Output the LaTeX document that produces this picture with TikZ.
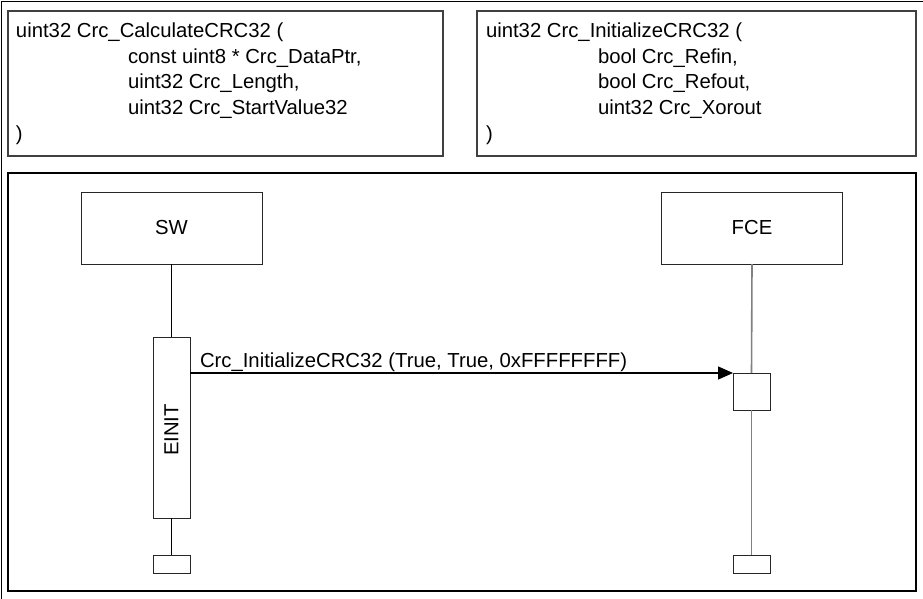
\documentclass[tikz,border=0pt]{standalone}
\usepackage{fontspec}
\setmainfont{Liberation Sans}
\usetikzlibrary{arrows.meta}
\begin{document}
\begin{tikzpicture}[x=1pt,y=-1pt,
  every node/.style={font=\fontsize{20.3}{24}\selectfont, inner sep=0pt, outer sep=0pt},
  codebox/.style={draw=black!75, line width=1.2pt, rectangle},
  framebox/.style={draw=black, line width=1.8pt, rectangle},
  objbox/.style={draw=black!85, line width=1pt, rectangle, minimum width=181pt, minimum height=72pt},
  actbox/.style={draw=black!85, line width=1pt, rectangle, fill=white, minimum width=37pt},
  line/.style={anchor=base west},
  swlife/.style={draw=black, line width=1pt},
  fcelife/.style={draw=black!50, line width=1.6pt},
  msg/.style={draw=black, line width=1.4pt, -{Triangle[length=15pt,width=13pt]}}
]
\useasboundingbox (0,0) rectangle (923,599);
% outer frame edges
\coordinate (otl) at (1.5,1.5);
\coordinate (otr) at (923,1.5);
\coordinate (obl) at (1.5,599);
\draw[line width=1pt] (otr) -- (otl) -- (obl);

% code boxes
\node[codebox, minimum width=435pt, minimum height=145pt] (b1) at (225.5,83.5) {};
\node[codebox, minimum width=439pt, minimum height=145pt] (b2) at (696.5,83.5) {};

\node[line] (b1l1) at (16,38) {uint32 Crc\_CalculateCRC32 (};
\node[line] (b1l2) at (128,63.5) {const uint8 * Crc\_DataPtr,};
\node[line] (b1l3) at (128,89) {uint32 Crc\_Length,};
\node[line] (b1l4) at (128,114.5) {uint32 Crc\_StartValue32};
\node[line] (b1l5) at (16,140) {)};

\node[line] (b2l1) at (486,38) {uint32 Crc\_InitializeCRC32 (};
\node[line] (b2l2) at (598,63.5) {bool Crc\_Refin,};
\node[line] (b2l3) at (598,89) {bool Crc\_Refout,};
\node[line] (b2l4) at (598,114.5) {uint32 Crc\_Xorout};
\node[line] (b2l5) at (486,140) {)};

% big frame
\node[framebox, minimum width=908pt, minimum height=418pt] (frame) at (462,382) {};

% objects
\node[objbox] (sw) at (171.5,228) {SW};
\node[objbox] (fce) at (752,228) {FCE};

% activations
\node[actbox, minimum height=181pt] (actsw) at (171.5,427.5) {};
\node[rotate=90] (einit) at (171.5,430) {EINIT};
\node[actbox, minimum height=18pt] (endsw) at (171.5,564) {};

\node[actbox, minimum height=37pt] (actf) at (751.5,391.5) {};
\node[actbox, minimum height=18pt] (endf) at (751.5,564) {};

% lifelines
\draw[swlife] (sw.south) -- (actsw.north);
\draw[swlife] (actsw.south) -- (endsw.north);
\draw[fcelife] (fce.south) -- (actf.north);
\draw[fcelife] (actf.south) -- (endf.north);

% message
\draw[msg] (actsw.east |- actf.north west) -- (actf.north west);
\node[line] (lbl) at (200,367) {Crc\_InitializeCRC32 (True, True, 0xFFFFFFFF)};
\end{tikzpicture}
\end{document}
